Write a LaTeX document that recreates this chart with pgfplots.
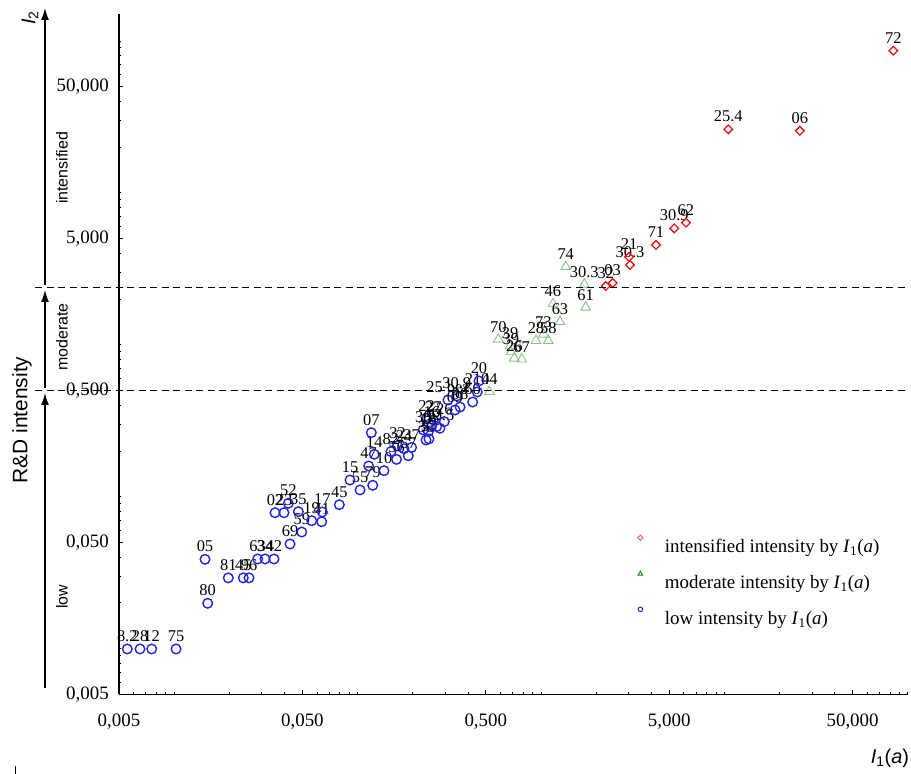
\documentclass[border=0pt]{standalone}
\usepackage{pgfplots}
\pgfplotsset{compat=1.18}
\usepackage{fontspec}
\setmainfont{Liberation Serif}
\newfontfamily\arial{Liberation Sans}
\usetikzlibrary{arrows.meta}
\definecolor{lowblue}{RGB}{35,35,225}
\definecolor{modgreen}{RGB}{135,195,135}
\definecolor{modgreendark}{RGB}{0,140,0}
\definecolor{intred}{RGB}{228,20,20}
\begin{document}
\begin{tikzpicture}[x=1bp,y=1bp]
\path[use as bounding box] (0,0) rectangle (911,774);
\begin{axis}[
  at={(119bp,79.7bp)}, anchor=south west,
  scale only axis, width=788.8bp, height=680.1bp,
  xmode=log, ymode=log,
  xmin=0.005, xmax=100, ymin=0.005, ymax=150,
  axis x line=bottom, axis y line=left,
  every outer x axis line/.append style={-},
  every outer y axis line/.append style={-},
  axis line style={line width=1.3bp,-},
  clip=false,
  tick align=inside,
  major tick length=4bp, minor tick length=2.5bp,
  tick style={black, line width=0.8bp},
  xtick={0.005,0.05,0.5,5,50},
  ytick={0.005,0.05,0.5,5,50},
  xticklabels={{0,005},{0,050},{0,500},{5,000},{50,000}},
  yticklabels={{0,005},{0,050},{0,500},{5,000},{50,000}},
  minor xtick={0.006,0.007,0.008,0.009,0.01,0.02,0.03,0.04,0.06,0.07,0.08,0.09,0.1,0.2,0.3,0.4,0.6,0.7,0.8,0.9,1,2,3,4,6,7,8,9,10,20,30,40,60,70,80,90,100},
  minor ytick={0.006,0.007,0.008,0.009,0.01,0.02,0.03,0.04,0.06,0.07,0.08,0.09,0.1,0.2,0.3,0.4,0.6,0.7,0.8,0.9,1,2,3,4,6,7,8,9,10,20,30,40,60,70,80,90,100},
  /pgf/number format/assume math mode=true,
  xticklabel style={font=\fontsize{19}{19}\selectfont, anchor=north, inner sep=0pt, yshift=-19bp},
  yticklabel style={font=\fontsize{19}{19}\selectfont, anchor=east, inner sep=0pt, xshift=-10bp},
  legend cell align=left,
  legend style={at={(0.6575,0.2342)}, anchor=north west, draw=none, fill=none,
    font=\fontsize{19}{21}\selectfont, row sep=15bp, inner sep=0pt,
    /tikz/every odd column/.append style={column sep=20bp}},
  nodes near coords,
  point meta=explicit symbolic,
  every node near coord/.append style={font=\fontsize{16.5}{16.5}\selectfont, text=black, anchor=south, inner sep=0pt, yshift=6.5bp},
]
% intensified intensity
\addplot[only marks, draw=intred, mark=square, mark size=3.05bp, mark options={rotate=45, line width=1.3bp, draw=intred, fill=none},
  legend image code/.code={\draw[mark=square, mark size=1.8bp, mark options={rotate=45, draw=intred!70!white, line width=0.9bp, fill=none}] plot coordinates {(0bp,9bp)};}]
coordinates {
(2.254,2.437) [32]
(2.459,2.551) [03]
(3.057,3.351) [30.3]
(3.019,3.784) [21]
(4.236,4.539) [71]
(5.33,5.84) [30.9]
(6.17,6.36) [62]
(10.5,26.2) [25.4]
(25.8,25.6) [06]
(83.4,86.3) [72]
};
\addlegendentry{intensified intensity by \textit{I}\textsubscript{1}(\textit{a})}
% moderate intensity
\addplot[only marks, draw=modgreen, mark=triangle, mark size=5.6bp, mark options={line width=0.9bp, draw=modgreen, fill=none},
  legend image code/.code={\draw[mark=triangle, mark size=2.6bp, mark options={draw=modgreendark, line width=0.9bp, fill=none}] plot coordinates {(0bp,9bp)};}]
coordinates {
(1.364,3.266) [74]
(1.722,2.50) [30.3]
(1.162,1.856) [46]
(1.753,1.765) [61]
(1.269,1.419) [63]
(1.029,1.172) [73]
(0.939,1.064) [28]
(1.096,1.064) [58]
(0.585,1.087) [70]
(0.678,0.982) [39]
(0.686,0.897) [39]
(0.715,0.815) [26]
(0.785,0.803) [67]
(0.5225,0.491) [04]
};
\addlegendentry{moderate intensity by \textit{I}\textsubscript{1}(\textit{a})}
% low intensity
\addplot[only marks, draw=lowblue, mark=o, mark size=4.8bp, mark options={line width=1.4bp, draw=lowblue, fill=none},
  legend image code/.code={\draw[mark=o, mark size=2.3bp, mark options={draw=lowblue, line width=1bp, fill=none}] plot coordinates {(0bp,9bp)};}]
coordinates {
(0.00555,0.00994) [8.2]
(0.00651,0.00994) [28]
(0.00754,0.00994) [12]
(0.01023,0.00994) [75]
(0.01472,0.0387) [05]
(0.01523,0.01987) [80]
(0.01972,0.0292) [81]
(0.02381,0.0292) [45]
(0.02558,0.0292) [96]
(0.02853,0.0389) [63]
(0.03127,0.0389) [34]
(0.0350,0.0389) [42]
(0.0428,0.0488) [69]
(0.0496,0.0585) [59]
(0.03545,0.0784) [02]
(0.0397,0.0784) [23]
(0.0419,0.0904) [52]
(0.0475,0.0797) [35]
(0.0562,0.0695) [19]
(0.0637,0.0684) [41]
(0.0642,0.0793) [17]
(0.0795,0.0885) [45]
(0.0909,0.1287) [15]
(0.1031,0.1107) [55]
(0.1209,0.1188) [79]
(0.1149,0.1592) [47]
(0.1233,0.1901) [14]
(0.1393,0.1483) [10]
(0.1188,0.2638) [07]
(0.152,0.198) [82]
(0.165,0.216) [32]
(0.163,0.176) [56]
(0.179,0.207) [24]
(0.189,0.186) [57]
(0.197,0.211) [37]
(0.238,0.328) [22]
(0.259,0.320) [27]
(0.228,0.275) [38]
(0.254,0.296) [16]
(0.243,0.268) [18]
(0.236,0.236) [36]
(0.245,0.240) [53]
(0.270,0.289) [11]
(0.281,0.282) [12.5]
(0.297,0.312) [26]
(0.311,0.433) [25 bez]
(0.347,0.460) [30.9]
(0.362,0.389) [98]
(0.340,0.372) [09]
(0.424,0.420) [60]
(0.449,0.489) [214]
(0.459,0.5775) [20]
};
\addlegendentry{low intensity by \textit{I}\textsubscript{1}(\textit{a})}
\end{axis}
% threshold lines
\draw[line width=1.4bp, dash pattern=on 7bp off 4.5bp] (35,486.3) -- (905,486.3);
\draw[line width=1.4bp, dash pattern=on 7bp off 4.5bp] (35,383.5) -- (905,383.5);
% category arrows
\draw[line width=1.3bp, -{Latex[length=12bp,width=8bp]}] (45,86) -- (45,381);
\draw[line width=1.3bp, -{Latex[length=12bp,width=8bp]}] (45,386) -- (45,484);
\draw[line width=1.3bp, -{Latex[length=12bp,width=8bp]}] (45,489) -- (45,766);
\node[rotate=90, font=\arial\fontsize{16}{16}\selectfont] at (62,606) {intensified};
\node[rotate=90, font=\arial\fontsize{16}{16}\selectfont] at (62,437) {moderate};
\node[rotate=90, font=\arial\fontsize{16}{16}\selectfont] at (62,177) {low};
\node[rotate=90, font=\arial\fontsize{21}{21}\selectfont] at (22,354) {R\&D intensity};
\node[rotate=90, font=\arial\fontsize{20}{20}\selectfont] at (30,756) {\textit{I}\textsubscript{2}};
\node[font=\arial\fontsize{20}{20}\selectfont] at (890,16) {\textit{I}\textsubscript{1}(\textit{a})};
\draw[line width=0.8bp] (15,0) -- (15,8);
\end{tikzpicture}
\end{document}
